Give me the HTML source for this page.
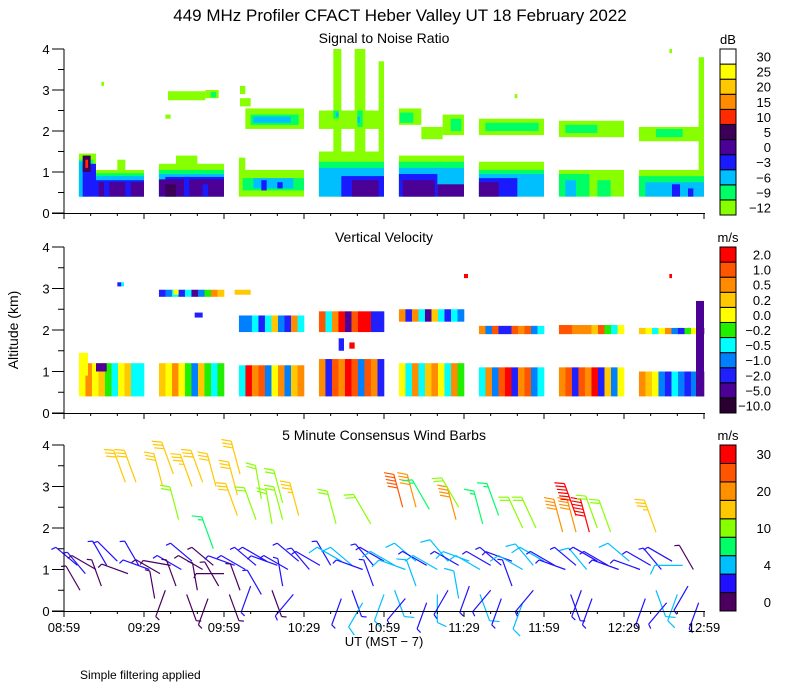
<!DOCTYPE html>
<html><head><meta charset="utf-8"><style>
body{margin:0;background:#fff;}
svg{display:block;font-family:"Liberation Sans",sans-serif;}
</style></head><body>
<svg id="fig" width="800" height="700" viewBox="0 0 800 700">
<rect width="800" height="700" fill="#fff"/>
<text x="400" y="21" text-anchor="middle" font-size="17">449 MHz Profiler CFACT Heber Valley UT 18 February 2022</text>
<text x="384" y="43" text-anchor="middle" font-size="14">Signal to Noise Ratio</text>
<text x="384" y="242" text-anchor="middle" font-size="14">Vertical Velocity</text>
<text x="384" y="440" text-anchor="middle" font-size="14">5 Minute Consensus Wind Barbs</text>
<text x="384" y="646" text-anchor="middle" font-size="13">UT  (MST − 7)</text>
<text x="18" y="330" text-anchor="middle" font-size="14" transform="rotate(-90 18 330)">Altitude (km)</text>
<text x="80" y="679" font-size="12">Simple filtering applied</text>
<g id="snr"></g>
<g id="vel"></g>
<g id="wind"></g>
<g id="axes"></g>
<g id="bars"></g>
</svg>
<script>
// ---------- data ----------
const xTickLabels = ["08:59","09:29","09:59","10:29","10:59","11:29","11:59","12:29","12:59"];
const altTicks = [0,1,2,3,4];
const snrLevels = ["-12","-9","-6","-3","0","5","10","15","20","25","30"];
const snrColors = ["#88ff00","#00ff66","#00bfff","#1a1aff","#4b0096","#3c0058","#ff2a00","#ff8c00","#ffc800","#ffff00","#ffffff"];
const velLevels = ["-10.0","-5.0","-2.0","-1.0","-0.5","-0.2","0.0","0.2","0.5","1.0","2.0"];
const velColors = ["#2a0030","#4b0096","#2020ff","#0080ff","#00ffff","#22ee00","#ffff00","#ffc800","#ff8c00","#ff5500","#ff0000"];
const windColors = ["#4b0060","#2010ff","#00bfff","#00ff66","#88ff00","#ffc800","#ff9000","#ff5500","#ff0000"];
const windBins = [0,2,4,7,10,15,20,25,30];
const windLabels = ["0","4","10","20","30"];
const windLabelVals = [0,4,10,20,30];
// SNR cells: [t0 min, t1 min, z0 km, z1 km, level]
const snrCells = [
[5.6,12,0.4,1.45,0],[12,30,0.4,1.05,0],[20,23,0.4,1.3,0],[5.6,11,0.4,1.3,1],[12,30,0.4,0.97,1],
[5.6,30,0.4,0.9,2],[5.6,9,0.4,1.25,2],[7,12,0.4,1.2,3],[12,30,0.4,0.8,3],[13,30,0.4,0.75,4],
[15,17,0.4,0.75,3],[23,25,0.4,0.75,3],[7,10,1.0,1.4,5],[8,9,1.1,1.3,6],[14,15,3.1,3.2,0],
[35.6,60,0.4,1.2,0],[42,50,0.4,1.4,0],[35.6,60,0.4,1.05,1],[35.6,60,0.4,0.95,2],[38,60,0.4,0.88,3],
[35.6,60,0.4,0.82,4],[38,42,0.4,0.7,5],[45,47,0.4,0.88,3],[52,54,0.4,0.7,3],
[39,53,2.75,2.97,0],[53,58,2.8,3.0,0],[55,57,2.82,2.95,1],[38,40,2.3,2.4,0],
[65.6,90,0.4,1.05,0],[65.6,68,0.4,1.35,0],[67,90,0.55,0.85,1],[71,86,0.6,0.85,2],[74,76,0.55,0.8,3],[80,82,0.6,0.75,3],
[68,90,2.05,2.55,0],[70,88,2.15,2.4,1],[71,85,2.2,2.35,2],[66,68,2.9,3.1,0],[66,70,2.6,2.8,0],
[95.6,120,0.4,1.5,0],[101,104,0.4,4.0,0],[109,113,0.4,4.0,0],[95.6,120,2.05,2.5,0],[118,120,0.4,3.7,0],
[95.6,120,0.4,1.25,1],[95.6,120,0.4,1.1,2],[104,120,0.4,0.9,3],[108,118,0.4,0.8,4],[101,103,2.3,2.5,1],[110,112,2.1,2.5,1],[102,103,2.35,2.45,2],[110,111,2.2,2.35,2],
[125.6,150,0.4,1.4,0],[125.6,150,0.4,1.25,1],[125.6,150,0.4,1.1,2],[125.6,140,0.4,0.95,3],[127,139,0.4,0.8,4],[140,150,0.4,0.7,4],
[125.6,134,2.15,2.55,0],[126,131,2.2,2.45,1],[134,142,1.8,2.1,0],[142,150,1.9,2.4,0],[145,149,2.0,2.3,1],
[155.6,180,0.4,1.25,0],[155.6,180,0.4,1.05,1],[155.6,180,0.4,0.95,2],[155.6,170,0.4,0.85,3],[155.6,163,0.4,0.75,4],
[155.6,180,1.9,2.3,0],[158,178,2.0,2.2,1],[169,170,2.8,2.9,0],
[185.6,210,0.4,1.05,0],[185.6,210,1.85,2.25,0],[188,200,1.95,2.15,1],[185.6,197,0.4,0.95,1],[188,192,0.4,0.8,2],[200,205,0.4,0.8,1],
[215.6,240,0.4,1.05,0],[215.6,240,1.75,2.1,0],[222,232,1.85,2.05,1],[238,240,0.4,3.8,0],[215.6,240,0.4,0.9,1],
[218,240,0.4,0.75,2],[228,231,0.4,0.7,3],[234,236,0.4,0.6,3],[227,228,3.9,4.0,0]
];
// Vertical velocity: stripes per block (10 per block)
const blockStarts = [5.6,35.6,65.6,95.6,125.6,155.6,185.6,215.6];
const velLowTop = [1.2,1.2,1.15,1.3,1.2,1.1,1.1,1.0];
const velLow = [
[6,8,6,7,5,4,6,7,4,4],[7,6,8,6,5,3,7,5,4,5],[4,10,8,9,3,6,8,3,7,8],[8,2,9,8,10,9,3,9,8,2],
[6,4,8,4,7,8,6,4,8,5],[4,8,3,9,10,2,8,9,3,4],[8,9,2,9,8,10,2,7,3,6],[8,7,6,3,2,4,3,2,3,1]];
const velUpZ0 = [null,2.8,1.95,1.95,2.2,1.9,1.9,1.9];
const velUpZ1 = [null,2.97,2.35,2.45,2.5,2.1,2.12,2.05];
const velUp = [null,[2,3,4,2,4,1,3,5,8,7],[3,3,4,2,4,7,3,2,8,4],[9,4,8,10,1,9,10,10,2,2],
[8,2,8,4,1,7,4,2,4,3],[8,3,9,2,2,9,8,9,3,4],[9,9,8,8,8,7,9,5,4,6],[7,6,4,6,8,3,2,5,6,1]];
const velCells = [[20,21.5,3.05,3.15,2],[21.5,22.5,3.05,3.15,4],[49,52,2.3,2.42,2],[5.6,9,0.9,1.45,6],[12,16,1.0,1.2,1],
[41,43,2.85,2.97,6],[103,105,1.5,1.8,2],[107,109,1.55,1.7,10],[150,151.5,3.25,3.35,10],[227,228,3.25,3.35,10],[237,240,0.4,2.7,1],[64,70,2.85,2.97,7]];
// Wind barbs: time (min), altitude (km), speed (m/s), direction (deg from)
const windT = [23,27,37,41,43,48,52,57,56,65,65,66,72,74,78,82,82,88,102,115,127,132,137,147,148,157,163,172,177,187,192,192,197,200,205,222,
5,8,12,16,20,24,28,32,36,40,44,48,52,56,60,64,68,72,76,80,84,88,92,96,100,104,108,112,116,120,124,128,132,136,140,144,148,152,156,160,164,168,172,176,180,184,188,192,196,200,204,208,212,216,220,224,228,232,236,
6,14,34,38,42,46,50,54,58,62,66,70,74,78,82,86,104,108,112,116,120,124,128,132,136,140,144,148,152,156,160,164,168,172,176,190,194,198,218,222,226,230,234,238];
const windZ = [3.1,3.1,3.0,3.3,2.2,3.0,3.1,3.0,1.5,2.8,2.3,3.3,2.2,2.7,2.1,2.2,2.6,2.3,2.1,2.1,2.5,2.5,2.45,2.2,2.5,2.1,2.3,2.0,2.0,1.9,1.9,2.3,1.9,2.0,1.9,1.9,
1.1,0.9,1.0,1.1,1.2,0.9,1.1,1.0,0.9,1.1,1.0,1.2,1.0,1.1,0.9,1.1,1.0,1.1,1.2,1.1,1.0,1.2,1.0,1.1,1.1,1.2,1.1,1.0,1.1,1.2,1.1,1.0,1.2,1.1,1.0,1.2,1.1,1.2,1.0,1.1,1.1,1.2,1.0,1.1,1.2,1.1,1.0,1.1,1.0,1.2,1.1,1.0,1.2,1.0,1.1,1.0,1.2,1.1,1.0,
0.5,0.6,0.3,0.5,0.6,0.4,0.5,0.3,0.6,0.4,0.5,0.6,0.4,0.5,0.6,0.4,0.3,0.5,0.2,0.6,0.4,0.5,0.3,0.6,0.2,0.4,0.5,0.3,0.6,0.4,0.5,0.3,0.6,0.2,0.5,0.4,0.5,0.3,0.3,0.5,0.2,0.4,0.6,0.2];
const windS = [15,15,17,15,10,18,15,15,8,15,15,15,12,12,10,10,12,18,12,10,25,20,8,22,10,8,8,10,10,22,20,30,30,10,10,18,
3,3,1,2,2,1,3,2,1,1,3,2,1,1,1,2,3,3,3,3,3,3,2,3,3,5,5,3,3,3,5,5,5,3,5,5,3,5,5,3,3,3,5,5,5,3,3,3,5,3,3,3,5,3,3,3,3,5,1,
1,1,1,1,1,1,1,1,1,1,1,3,3,1,3,3,3,3,5,3,5,5,3,5,3,5,3,5,3,5,3,3,3,5,3,3,3,3,3,5,3,5,3,3];
const windD = [340,340,345,340,345,340,340,345,340,345,340,345,340,350,350,345,345,345,345,330,345,345,330,345,330,345,340,335,335,345,345,340,345,340,340,340,
310,320,300,330,315,290,330,290,300,280,300,310,300,310,270,290,300,310,300,290,300,310,320,300,330,300,310,290,320,300,300,290,310,300,300,320,300,290,300,300,310,290,300,320,300,300,290,310,320,300,300,290,310,290,300,320,300,270,330,
330,340,350,200,340,160,350,200,330,160,340,200,330,160,350,220,200,160,210,340,200,160,220,340,200,180,210,350,200,160,220,200,340,200,220,160,200,200,200,160,220,200,210,200];

// ---------- helpers ----------
const NS="http://www.w3.org/2000/svg";
const X0=64, X1=704;
const panels = {snr:{top:49,bot:213},vel:{top:247,bot:413},wind:{top:445,bot:611}};
function xs(t){return X0 + t*(X1-X0)/240;}
function ys(p,z){const P=panels[p];return P.bot - z*(P.bot-P.top)/4;}
function mk(tag,attrs,parent){const e=document.createElementNS(NS,tag);for(const k in attrs)e.setAttribute(k,attrs[k]);parent.appendChild(e);return e;}

// SNR
const gS=document.getElementById('snr');
snrCells.forEach(c=>{
  const r=mk('rect',{x:xs(c[0]),y:ys('snr',c[3]),width:xs(c[1])-xs(c[0]),height:ys('snr',c[2])-ys('snr',c[3]),fill:snrColors[c[4]]},gS);
  
  
});
// Velocity
const gV=document.getElementById('vel');
function stripes(b,z0,z1,levs){
  const w=24.4/levs.length;
  levs.forEach((l,i)=>{
    const t=blockStarts[b]+i*w;
    const r=mk('rect',{x:xs(t),y:ys('vel',z1),width:xs(t+w)-xs(t)+0.3,height:ys('vel',z0)-ys('vel',z1),fill:velColors[l]},gV);
    
    
  });
}
for(let b=0;b<8;b++){
  stripes(b,0.4,velLowTop[b],velLow[b]);
  if(velUp[b]) stripes(b,velUpZ0[b],velUpZ1[b],velUp[b]);
}
velCells.forEach(c=>{
  const r=mk('rect',{x:xs(c[0]),y:ys('vel',c[3]),width:xs(c[1])-xs(c[0]),height:ys('vel',c[2])-ys('vel',c[3]),fill:velColors[c[4]]},gV);
  
  
});
// Wind barbs
const gW=document.getElementById('wind');
function wcol(s){let i=0;for(let k=0;k<windBins.length;k++) if(s>=windBins[k]) i=k;return windColors[i];}
windT.forEach((t,i)=>{
  const x=xs(t), y=ys('wind',windZ[i]), s=windS[i], d=windD[i]*Math.PI/180;
  const L = s>=8?34:28;
  const ux=Math.sin(d), uy=-Math.cos(d);
  const ex=x+ux*L, ey=y+uy*L;
  const col=wcol(s);
  const g=mk('g',{stroke:col,'stroke-width':1.2,fill:'none'},gW);
  
  
  mk('line',{x1:x,y1:y,x2:ex,y2:ey},g);
  const a=-65*Math.PI/180;
  const bx=ux*Math.cos(a)-uy*Math.sin(a), by=ux*Math.sin(a)+uy*Math.cos(a);
  let n=Math.floor(s/5), half=(s%5)>=2.5?1:0;
  if(s<5&&s>=1){half=1;}
  let k=0;
  for(;k<n;k++){const px=ex-ux*k*3.5, py=ey-uy*k*3.5;mk('line',{x1:px,y1:py,x2:px+bx*10,y2:py+by*10},g);}
  if(half){const px=ex-ux*k*3.5, py=ey-uy*k*3.5;mk('line',{x1:px,y1:py,x2:px+bx*5,y2:py+by*5},g);}
});
// Axes
const gA=document.getElementById('axes');
['snr','vel','wind'].forEach(p=>{
  const P=panels[p];
  const g=mk('g',{stroke:'#000','stroke-width':1,fill:'none'},gA);
  
  
  mk('line',{x1:X0,y1:P.top,x2:X0,y2:P.bot},g);
  mk('line',{x1:X0-12,y1:P.bot+0.5,x2:X1+1,y2:P.bot+0.5},g);
  for(let z=0;z<=4;z+=0.5){const y=ys(p,z);mk('line',{x1:X0-(z%1===0?12:6),y1:y,x2:X0,y2:y},g);}
  for(let t=0;t<=240;t+=10){const x=xs(t);mk('line',{x1:x,y1:P.bot,x2:x,y2:P.bot+(t%30===0?6:3)},g);}
  altTicks.forEach(z=>{
    const tx=mk('text',{x:46,y:ys(p,z)+5,'text-anchor':'middle','font-size':13,fill:'#000',stroke:'none'},gA);
    tx.textContent=z;
    
    
  });
});
xTickLabels.forEach((l,i)=>{
  const tx=mk('text',{x:xs(i*30),y:632,'text-anchor':'middle','font-size':13},gA);
  tx.textContent=l;
  
  
});
// Colorbars
const gB=document.getElementById('bars');
function cbar(top,bot,cols,labels,unit,name,labelPos){
  const g=mk('g',{},gB);
  
  
  const h=(bot-top)/cols.length;
  cols.forEach((c,i)=>{mk('rect',{x:720,y:bot-(i+1)*h,width:16,height:h,fill:c,stroke:'#000','stroke-width':1},g);});
  labels.forEach((l,i)=>{
    const y = labelPos? labelPos(i) : bot-(i+0.5)*h;
    const t=mk('text',{x:771,y:y+5,'text-anchor':'end','font-size':13},g);
    t.textContent=l.replace('-','−');
  });
  const u=mk('text',{x:728,y:top-5,'text-anchor':'middle','font-size':13},g);
  u.textContent=unit;
}
cbar(49,215,snrColors,snrLevels,'dB','snr-colorbar');
cbar(247,413,velColors,velLevels,'m/s','velocity-colorbar');
cbar(445,611,windColors,windLabels,'m/s','wind-colorbar',i=>611-(i*2+0.5)*(166/9));
</script>
</body></html>
